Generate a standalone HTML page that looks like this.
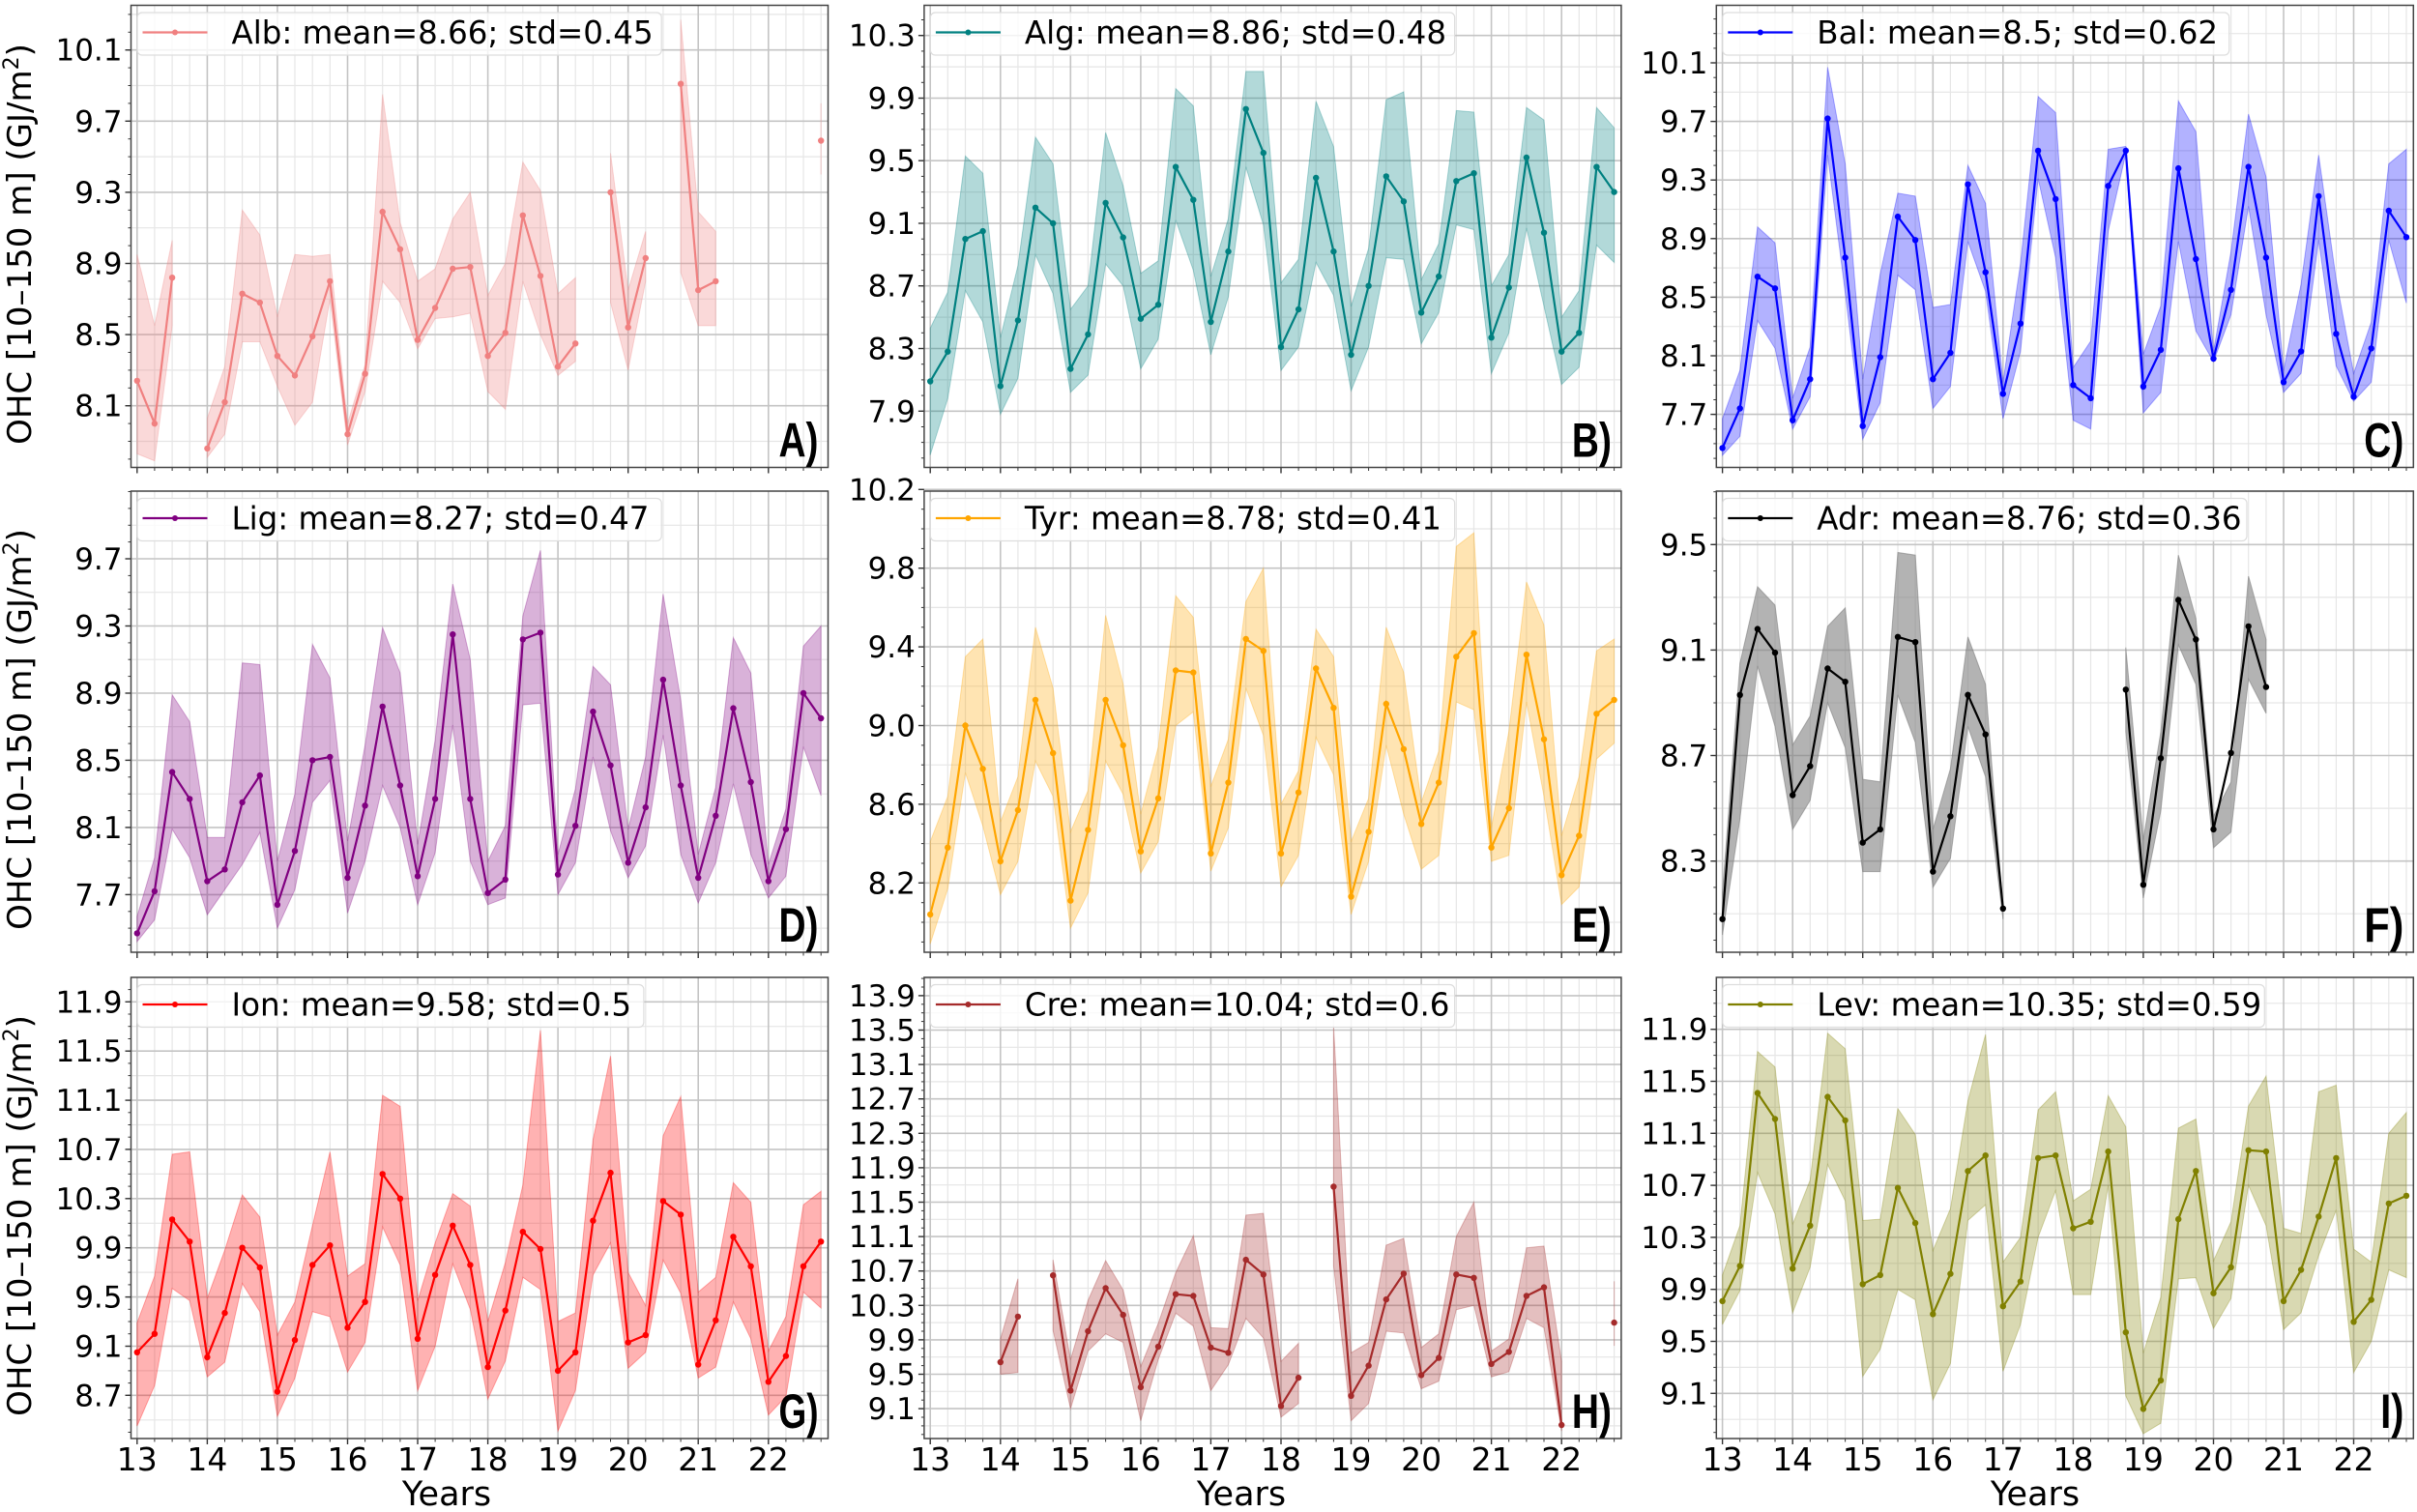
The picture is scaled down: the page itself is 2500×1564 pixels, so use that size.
<!DOCTYPE html>
<html><head><meta charset="utf-8">
<style>html,body{margin:0;padding:0;background:#fff;}svg{display:block;}</style>
</head><body>
<svg id="s" xmlns="http://www.w3.org/2000/svg" width="2500" height="1564" viewBox="0 0 2500 1564"></svg>
<script>
var N=null;
var P=[
{n:"Alb: mean=8.66; std=0.45",c:"#f08080",col:0,row:0,L:"A)",vr:10.1,pr:51.7,pu:184,t0:8.1,t1:10.1,
m:[8.24,8.00,8.82,N,7.86,8.12,8.73,8.68,8.38,8.27,8.49,8.80,7.94,8.28,9.19,8.98,8.47,8.65,8.87,8.88,8.38,8.51,9.17,8.83,8.32,8.45,N,9.30,8.54,8.93,N,9.91,8.75,8.80,N,N,N,N,N,9.59],
u:[8.95,8.55,9.03,N,8.03,8.32,9.20,9.06,8.60,8.95,8.94,8.95,8.0,8.33,9.85,9.13,8.80,8.87,9.15,9.30,8.72,8.90,9.47,9.31,8.73,8.82,N,9.52,8.75,9.08,N,10.27,9.19,9.08,N,N,N,N,N,9.8],
l:[7.83,7.79,8.55,N,7.81,7.94,8.46,8.46,8.21,7.99,8.12,8.70,7.88,8.18,8.80,8.68,8.42,8.59,8.60,8.62,8.18,8.08,8.80,8.50,8.27,8.35,N,8.68,8.30,8.80,N,8.85,8.55,8.55,N,N,N,N,N,9.4]},
{n:"Alg: mean=8.86; std=0.48",c:"#008080",col:1,row:0,L:"B)",vr:10.3,pr:36.7,pu:161.9,t0:7.9,t1:10.3,
m:[8.09,8.28,9.0,9.05,8.06,8.48,9.20,9.10,8.17,8.39,9.23,9.01,8.49,8.58,9.46,9.25,8.47,8.92,9.83,9.55,8.31,8.55,9.39,8.92,8.26,8.70,9.40,9.24,8.53,8.76,9.37,9.42,8.37,8.69,9.52,9.04,8.28,8.40,9.46,9.30],
u:[8.43,8.66,9.53,9.42,8.37,8.83,9.65,9.48,8.55,8.70,9.68,9.34,8.78,8.86,9.96,9.85,8.76,9.13,10.07,10.07,8.72,8.87,9.88,9.59,8.57,8.94,9.89,9.94,8.74,8.97,9.82,9.81,8.70,8.90,9.84,9.76,8.50,8.67,9.84,9.71],
l:[7.62,7.98,8.67,8.47,7.88,8.11,8.90,8.65,8.02,8.13,8.84,8.70,8.17,8.36,9.12,8.80,8.26,8.63,9.46,9.09,8.16,8.31,8.85,8.64,8.03,8.31,8.88,8.87,8.33,8.53,9.09,9.06,8.14,8.40,9.07,8.57,8.07,8.18,8.96,8.85]},
{n:"Bal: mean=8.5; std=0.62",c:"#0000ff",col:2,row:0,L:"C)",vr:10.1,pr:65,pu:151.5,t0:7.7,t1:10.1,
m:[7.47,7.74,8.64,8.56,7.66,7.94,9.72,8.77,7.62,8.09,9.05,8.89,7.94,8.12,9.27,8.67,7.84,8.32,9.50,9.17,7.90,7.81,9.26,9.50,7.89,8.14,9.38,8.76,8.08,8.55,9.39,8.77,7.92,8.13,9.19,8.25,7.82,8.15,9.09,8.91],
u:[7.67,8.0,8.98,8.87,7.81,8.16,10.07,9.41,7.94,8.66,9.21,9.19,8.43,8.45,9.40,9.14,7.92,8.73,9.87,9.76,8.02,8.2,9.51,9.53,8.11,8.44,9.84,9.63,8.13,8.81,9.75,9.32,8.0,8.59,9.47,8.62,7.98,8.33,9.41,9.51],
l:[7.42,7.55,8.34,8.15,7.60,7.82,9.47,8.53,7.53,7.78,8.65,8.55,7.74,7.89,8.88,8.54,7.67,8.13,9.31,8.77,7.66,7.6,8.95,9.48,7.71,7.85,8.88,8.27,8.06,8.38,9.12,8.38,7.85,7.98,8.89,8.03,7.79,7.92,8.89,8.46]},
{n:"Lig: mean=8.27; std=0.47",c:"#800080",col:0,row:1,L:"D)",vr:9.7,pr:578,pu:173.7,t0:7.7,t1:9.7,
m:[7.47,7.72,8.43,8.27,7.78,7.85,8.25,8.41,7.64,7.96,8.50,8.52,7.80,8.23,8.82,8.35,7.81,8.27,9.25,8.27,7.71,7.79,9.22,9.26,7.82,8.11,8.79,8.47,7.89,8.22,8.98,8.35,7.80,8.17,8.81,8.37,7.78,8.09,8.90,8.75],
u:[7.57,7.92,8.89,8.73,8.04,8.04,9.08,9.07,7.90,8.30,9.19,8.99,8.02,8.59,9.29,9.02,8.0,8.62,9.55,9.10,7.90,8.11,9.36,9.75,7.94,8.33,9.06,8.95,8.09,8.52,9.49,8.86,7.94,8.34,9.23,9.02,7.88,8.21,9.18,9.3],
l:[7.42,7.55,8.09,7.92,7.58,7.73,7.88,8.07,7.50,7.73,8.25,8.38,7.59,7.90,8.35,8.10,7.64,7.95,8.71,7.90,7.64,7.68,8.83,8.84,7.70,7.89,8.52,8.08,7.80,7.99,8.65,7.94,7.65,7.89,8.36,7.94,7.68,7.81,8.58,8.29]},
{n:"Tyr: mean=8.78; std=0.41",c:"#ffa500",col:1,row:1,L:"E)",vr:9.8,pr:587.7,pu:203.5,t0:8.2,t1:10.2,
m:[8.04,8.38,9.0,8.78,8.31,8.57,9.13,8.86,8.11,8.47,9.13,8.90,8.36,8.63,9.28,9.27,8.35,8.71,9.44,9.38,8.35,8.66,9.29,9.09,8.13,8.46,9.11,8.88,8.50,8.71,9.35,9.47,8.38,8.58,9.36,8.93,8.24,8.44,9.06,9.13],
u:[8.41,8.64,9.35,9.44,8.51,8.74,9.50,9.19,8.46,8.67,9.56,9.21,8.55,8.89,9.66,9.55,8.69,8.93,9.63,9.80,8.60,8.77,9.49,9.35,8.41,8.63,9.50,9.27,8.61,8.87,9.91,9.98,8.48,8.97,9.73,9.51,8.44,8.74,9.38,9.44],
l:[7.89,8.17,8.76,8.49,8.14,8.31,8.82,8.64,7.97,8.15,8.82,8.65,8.25,8.41,9.0,9.07,8.26,8.48,9.19,8.95,8.18,8.34,8.94,8.75,8.04,8.31,8.90,8.55,8.27,8.34,9.12,9.08,8.31,8.34,9.12,8.64,8.09,8.18,8.83,8.91]},
{n:"Adr: mean=8.76; std=0.36",c:"#000000",f:"#808080",fa:0.6,col:2,row:1,L:"F)",vr:9.5,pr:563.3,pu:272.8,t0:8.3,t1:9.5,
m:[8.08,8.93,9.18,9.09,8.55,8.66,9.03,8.98,8.37,8.42,9.15,9.13,8.26,8.47,8.93,8.78,8.12,N,N,N,N,N,N,8.95,8.21,8.69,9.29,9.14,8.42,8.71,9.19,8.96,N,N,N,N,N,N,N,N],
u:[8.18,9.05,9.34,9.27,8.74,8.85,9.19,9.26,8.61,8.60,9.47,9.46,8.42,8.65,9.15,8.97,8.12,N,N,N,N,N,N,9.11,8.38,8.79,9.46,9.22,8.47,8.60,9.38,9.14,N,N,N,N,N,N,N,N],
l:[8.02,8.46,9.04,8.81,8.42,8.53,8.90,8.73,8.26,8.26,8.93,8.75,8.20,8.31,8.81,8.62,8.08,N,N,N,N,N,N,8.79,8.16,8.49,9.12,8.97,8.35,8.41,8.99,8.86,N,N,N,N,N,N,N,N]},
{n:"Ion: mean=9.58; std=0.5",c:"#ff0000",col:0,row:2,L:"G)",vr:11.9,pr:1036.3,pu:127.2,t0:8.7,t1:11.9,
m:[9.05,9.20,10.13,9.95,9.01,9.37,9.90,9.74,8.73,9.15,9.76,9.92,9.25,9.46,10.50,10.30,9.16,9.68,10.08,9.76,8.93,9.39,10.03,9.89,8.90,9.05,10.12,10.51,9.13,9.19,10.28,10.17,8.95,9.31,9.99,9.75,8.81,9.02,9.75,9.95],
u:[9.29,9.67,10.66,10.68,9.49,9.88,10.33,10.15,9.19,9.46,10.08,10.68,9.67,9.77,11.14,11.05,9.47,9.94,10.34,10.24,9.30,9.78,10.41,11.67,9.30,9.37,10.78,11.46,9.70,9.43,10.81,11.13,9.54,9.66,10.43,10.27,9.06,9.34,10.25,10.36],
l:[8.45,8.78,9.57,9.47,8.85,8.97,9.61,9.38,8.53,8.84,9.38,9.34,8.89,9.13,10.07,9.76,8.74,9.10,9.77,9.40,8.67,8.98,9.66,9.56,8.41,8.74,9.68,9.94,8.92,9.05,9.80,9.53,8.84,8.93,9.46,9.16,8.54,8.69,9.54,9.41]},
{n:"Cre: mean=10.04; std=0.6",c:"#a52a2a",col:1,row:2,L:"H)",vr:13.9,pr:1029.9,pu:89.0,t0:9.1,t1:13.9,
m:[N,N,N,N,9.64,10.17,N,10.65,9.31,10.0,10.50,10.19,9.35,9.82,10.43,10.41,9.81,9.75,10.83,10.66,9.13,9.46,N,11.68,9.25,9.60,10.37,10.67,9.49,9.69,10.66,10.62,9.62,9.76,10.41,10.51,8.91,N,N,10.1],
u:[N,N,N,N,9.91,10.61,N,10.83,9.67,10.36,10.82,10.48,9.59,10.09,10.68,11.11,10.04,10.03,11.35,11.37,9.65,9.86,N,13.55,9.75,9.87,11.0,11.08,9.81,9.97,11.10,11.50,9.77,9.91,10.97,10.99,9.65,N,N,10.58],
l:[N,N,N,N,9.50,9.52,N,10.01,9.10,9.77,9.97,9.87,8.96,9.67,10.21,10.06,9.31,9.61,10.15,9.92,9.0,9.16,N,10.76,8.96,9.16,10.0,9.98,9.33,9.42,10.25,10.30,9.47,9.53,10.15,10.04,8.84,N,N,9.83]},
{n:"Lev: mean=10.35; std=0.59",c:"#808000",col:2,row:2,L:"I)",vr:11.9,pr:1064.7,pu:134.5,t0:9.1,t1:11.9,
m:[9.81,10.08,11.41,11.21,10.06,10.39,11.38,11.20,9.94,10.01,10.68,10.41,9.71,10.02,10.81,10.93,9.77,9.96,10.91,10.93,10.37,10.42,10.96,9.57,8.98,9.20,10.44,10.81,9.87,10.07,10.97,10.96,9.81,10.05,10.46,10.91,9.65,9.82,10.56,10.62],
u:[10.01,10.39,11.73,11.61,10.40,10.74,11.87,11.75,10.43,10.44,11.29,11.09,10.20,10.52,11.35,11.86,10.11,10.30,11.28,11.42,10.58,10.67,11.39,11.15,9.41,9.84,11.14,11.21,10.12,10.42,11.31,11.54,10.37,10.33,11.42,11.47,10.21,10.11,11.10,11.26],
l:[9.63,9.89,10.80,10.48,9.72,10.07,10.86,10.58,9.23,9.44,9.90,9.82,9.05,9.33,10.43,10.55,9.27,9.63,10.30,10.66,9.86,9.86,10.70,9.08,8.79,8.87,9.98,9.99,9.60,9.83,10.70,10.39,9.59,9.72,10.16,10.51,9.26,9.50,10.05,9.99]}
];
var X13=[141.8,962.2,1781.6], PY=72.55;
var ROWS=[[5.5,483.5],[508,985],[1011,1488]];
var FONT='font-family="DejaVu Sans, Liberation Sans, sans-serif"';
var o=[];
function f(v){return Math.round(v*10)/10;}
P.forEach(function(p){
  var x13=X13[p.col], L=x13-6.3, R=x13+714.7, T=ROWS[p.row][0], B=ROWS[p.row][1];
  var X=function(i){return x13+i*0.25*PY;};
  var Y=function(v){return p.pr-(v-p.vr)*p.pu;};
  var cid='c'+p.col+p.row;
  o.push('<clipPath id="'+cid+'"><rect x="'+L+'" y="'+T+'" width="'+(R-L)+'" height="'+(B-T)+'"/></clipPath>');
  for(var i=-1;i<41;i++){var x=X(i); if(x<L||x>R) continue; if(i%4!=0) o.push('<line x1="'+f(x)+'" y1="'+T+'" x2="'+f(x)+'" y2="'+B+'" stroke="#e6e6e6" stroke-width="1.2"/>');}
  var lo=p.vr-(B-p.pr)/p.pu, hi=p.vr+(p.pr-T)/p.pu;
  for(var k=Math.ceil((lo-p.t0)/0.2-1e-6);k<=Math.floor((hi-p.t0)/0.2+1e-6);k++){var v=p.t0+k*0.2; if(k%2!=0){var y=Y(v); o.push('<line x1="'+L+'" y1="'+f(y)+'" x2="'+R+'" y2="'+f(y)+'" stroke="#e6e6e6" stroke-width="1.2"/>');}}
  for(var yr=13;yr<=22;yr++){var x=X((yr-13)*4); o.push('<line x1="'+f(x)+'" y1="'+T+'" x2="'+f(x)+'" y2="'+B+'" stroke="#c4c4c4" stroke-width="1.6"/>');
    o.push('<line x1="'+f(x)+'" y1="'+B+'" x2="'+f(x)+'" y2="'+(B+6)+'" stroke="#333" stroke-width="1.4"/>');
    if(p.row==2) o.push('<text x="'+f(x)+'" y="'+(B+33)+'" font-size="33" text-anchor="middle" '+FONT+'>'+yr+'</text>');}
  for(var i=0;i<40;i++){if(i%4) {var x=X(i); o.push('<line x1="'+f(x)+'" y1="'+B+'" x2="'+f(x)+'" y2="'+(B+3.5)+'" stroke="#333" stroke-width="1"/>');}}
  for(var v=p.t0;v<=p.t1+1e-6;v+=0.4){var y=Y(v); o.push('<line x1="'+L+'" y1="'+f(y)+'" x2="'+R+'" y2="'+f(y)+'" stroke="#c4c4c4" stroke-width="1.6"/>');
    o.push('<line x1="'+(L-6)+'" y1="'+f(y)+'" x2="'+L+'" y2="'+f(y)+'" stroke="#333" stroke-width="1.4"/>');
    o.push('<text x="'+(L-9)+'" y="'+f(y+11)+'" font-size="31" text-anchor="end" '+FONT+'>'+v.toFixed(1)+'</text>');}
  for(var v=p.t0-0.4;v<=p.t1+0.4;v+=0.1){var y=Y(v); if(y<T||y>B) continue; o.push('<line x1="'+(L-3)+'" y1="'+f(y)+'" x2="'+L+'" y2="'+f(y)+'" stroke="#333" stroke-width="1"/>');}
  var fill=p.f||p.c, fa=p.fa||0.3;
  var seg=[],segs=[];
  for(var i=0;i<40;i++){if(p.m[i]===null){if(seg.length)segs.push(seg);seg=[];}else seg.push(i);}
  if(seg.length)segs.push(seg);
  var g='<g clip-path="url(#'+cid+')">';
  segs.forEach(function(s){
    if(s.length>1){
      var pts=s.map(function(i){return f(X(i))+','+f(Y(p.u[i]));});
      var pts2=s.slice().reverse().map(function(i){return f(X(i))+','+f(Y(p.l[i]));});
      g+='<polygon points="'+pts.concat(pts2).join(' ')+'" fill="'+fill+'" fill-opacity="'+fa+'" stroke="'+fill+'" stroke-opacity="'+fa+'" stroke-width="1"/>';
      g+='<polyline points="'+s.map(function(i){return f(X(i))+','+f(Y(p.m[i]));}).join(' ')+'" fill="none" stroke="'+p.c+'" stroke-width="2.2"/>';
    } else {
      var i=s[0]; g+='<line x1="'+f(X(i))+'" y1="'+f(Y(p.u[i]))+'" x2="'+f(X(i))+'" y2="'+f(Y(p.l[i]))+'" stroke="'+fill+'" stroke-opacity="'+fa+'" stroke-width="1.2"/>';
    }
    s.forEach(function(i){g+='<circle cx="'+f(X(i))+'" cy="'+f(Y(p.m[i]))+'" r="3.2" fill="'+p.c+'"/>';});
  });
  g+='</g>'; o.push(g);
  o.push('<rect x="'+L+'" y="'+T+'" width="'+(R-L)+'" height="'+(B-T)+'" fill="none" stroke="#444" stroke-width="1.5"/>');
  var bw=98+p.n.length*18.3+5;
  o.push('<rect x="'+(L+6.5)+'" y="'+(T+7.5)+'" width="'+bw+'" height="44" rx="5" fill="#fff" fill-opacity="0.8" stroke="#ddd" stroke-width="1.2"/>');
  o.push('<line x1="'+(L+12)+'" y1="'+(T+28)+'" x2="'+(L+79)+'" y2="'+(T+28)+'" stroke="'+p.c+'" stroke-width="2.2"/>');
  o.push('<circle cx="'+(L+45.5)+'" cy="'+(T+28)+'" r="3" fill="'+p.c+'"/>');
  o.push('<text x="'+(L+104)+'" y="'+(T+39.5)+'" font-size="32.5" '+FONT+'>'+p.n+'</text>');
  o.push('<text x="'+(R-10)+'" y="'+(B-11)+'" font-size="50" font-weight="bold" text-anchor="end" textLength="'+(p.L=="I)"?24:41)+'" lengthAdjust="spacingAndGlyphs" font-family="Liberation Sans, sans-serif">'+p.L+'</text>');
  if(p.row==2) o.push('<text x="'+[462,1284,2105][p.col]+'" y="1557" font-size="35" text-anchor="middle" '+FONT+'>Years</text>');
  if(p.col==0){var cy=(T+B)/2+8; o.push('<text transform="translate(32,'+cy+') rotate(-90)" font-size="34" text-anchor="middle" '+FONT+'>OHC [10–150 m] (GJ/m<tspan font-size="22" dy="-13">2</tspan><tspan dy="13">)</tspan></text>');}
});
document.getElementById('s').innerHTML=o.join('');
</script>
</body></html>
